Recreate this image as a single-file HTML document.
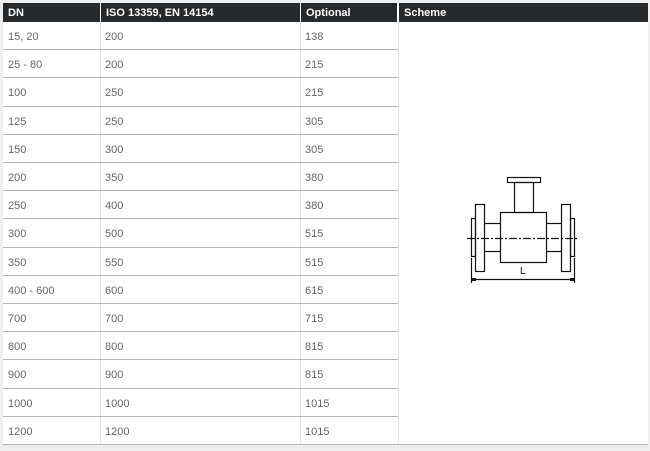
<!DOCTYPE html>
<html><head><style>
html,body{margin:0;padding:0;background:#eeeeee;width:650px;height:451px;overflow:hidden;font-family:"Liberation Sans",Arial,sans-serif;}
#t{position:absolute;left:3px;top:3px;width:645px;height:442px;background:#fff;}
.h{position:absolute;top:0;height:19px;background:#25292c;color:#fff;font-weight:bold;font-size:11px;line-height:21px;padding-left:5px;box-sizing:border-box;}
.c{position:absolute;font-size:11px;color:#666;}
.hl{position:absolute;left:0;width:395px;height:1px;background:#b5b5b5;}
.vl{position:absolute;top:19px;width:1px;height:423px;background:#e6e6e6;}
</style></head><body>
<div id="t">
<div class="h" style="left:0;width:97px">DN</div>
<div class="h" style="left:98px;width:199px">ISO 13359, EN 14154</div>
<div class="h" style="left:298px;width:96px">Optional</div>
<div class="h" style="left:396px;width:249px">Scheme</div>
<div class="vl" style="left:97px"></div>
<div class="vl" style="left:297px"></div>
<div class="vl" style="left:395px"></div>
<div id="rows"></div>
<svg style="position:absolute;left:-3px;top:-3px" width="650" height="451" fill="none" stroke="#111" stroke-width="1.2">
<rect x="507.5" y="177.5" width="33" height="5"/>
<rect x="514.5" y="182.5" width="19" height="30"/>
<rect x="500.5" y="212.5" width="46" height="50"/>
<rect x="475.5" y="204.5" width="9" height="67"/>
<rect x="471.5" y="218.5" width="4" height="38"/>
<rect x="561.5" y="204.5" width="9" height="67"/>
<rect x="570.5" y="218.5" width="4" height="38"/>
<line x1="484" y1="223.5" x2="500" y2="223.5"/><line x1="484" y1="251.5" x2="500" y2="251.5"/>
<line x1="546" y1="223.5" x2="561" y2="223.5"/><line x1="546" y1="251.5" x2="561" y2="251.5"/>
<line x1="467" y1="238.5" x2="579" y2="238.5" stroke-dasharray="8,2,2,2"/>
<line x1="471.5" y1="258" x2="471.5" y2="283"/><line x1="574.5" y1="258" x2="574.5" y2="283"/>
<line x1="471" y1="279.5" x2="575" y2="279.5"/>
<rect x="472" y="278" width="4" height="3" fill="#111" stroke="none"/>
<rect x="570" y="278" width="4" height="3" fill="#111" stroke="none"/>
<text x="520" y="274" font-size="10" fill="#111" stroke="none" font-family="Liberation Sans">L</text>
</svg>
</div>
<script>
var d=[["15, 20","200","138"],["25 - 80","200","215"],["100","250","215"],["125","250","305"],["150","300","305"],["200","350","380"],["250","400","380"],["300","500","515"],["350","550","515"],["400 - 600","600","615"],["700","700","715"],["800","800","815"],["900","900","815"],["1000","1000","1015"],["1200","1200","1015"]];
var h="";for(var i=0;i<15;i++){var y=19+i*28.2;var ty=y+9;
h+='<div class="c" style="left:5px;top:'+ty+'px">'+d[i][0]+'</div><div class="c" style="left:102px;top:'+ty+'px">'+d[i][1]+'</div><div class="c" style="left:302px;top:'+ty+'px">'+d[i][2]+'</div>';
h+='<div class="hl" style="top:'+Math.round(y+28.2-1)+'px;'+(i==14?'width:645px':'')+'"></div>';}
document.getElementById("rows").innerHTML=h;
</script>
</body></html>
